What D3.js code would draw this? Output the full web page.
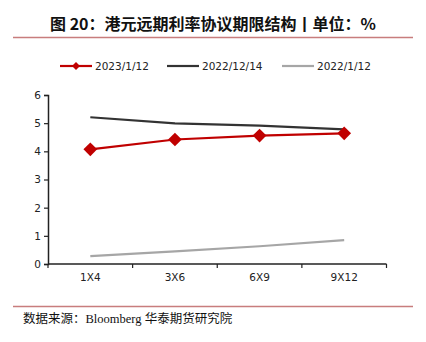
<!DOCTYPE html>
<html><head><meta charset="utf-8">
<script src="https://cdn.jsdelivr.net/npm/d3@7"></script>
<style>body{margin:0;background:#fff;}svg{display:block;}</style>
</head><body>
<svg id="c" width="426" height="342"></svg>
<script>
const categories = ["1X4","3X6","6X9","9X12"];
const s2023_1_12 = [4.07, 4.42, 4.56, 4.64];
const s2022_12_14 = [5.21, 4.99, 4.91, 4.78];
const s2022_1_12 = [0.28, 0.45, 0.63, 0.85];
const seriesNames = ["2023/1/12","2022/12/14","2022/1/12"];
const yTicks = [0,1,2,3,4,5,6];

const svg = d3.select("#c");
const font = "'Noto Sans CJK SC', sans-serif";
const series = [
  {name: seriesNames[0], values: s2023_1_12, color: "#c00000", marker: true},
  {name: seriesNames[1], values: s2022_12_14, color: "#333333", marker: false},
  {name: seriesNames[2], values: s2022_1_12, color: "#a6a6a6", marker: false}
];

// title
svg.append("text").attr("x", 213).attr("y", 30).attr("text-anchor", "middle")
  .attr("font-family", font).attr("font-weight", "bold").attr("font-size", 16).attr("fill", "#111")
  .text("图 20：港元远期利率协议期限结构丨单位：%");
svg.append("line").attr("x1", 13).attr("x2", 413).attr("y1", 37.5).attr("y2", 37.5)
  .attr("stroke", "#c87d7d").attr("stroke-width", 1.5);
svg.append("line").attr("x1", 13).attr("x2", 413).attr("y1", 306.5).attr("y2", 306.5)
  .attr("stroke", "#c87d7d").attr("stroke-width", 1.5);
svg.append("text").attr("x", 23).attr("y", 323)
  .attr("font-family", "'Liberation Serif', 'Noto Sans CJK SC', serif").attr("font-size", 12.5).attr("fill", "#111")
  .text("数据来源：Bloomberg 华泰期货研究院");

const x = d3.scaleBand().domain(categories).range([48, 386.5]);
const y = d3.scaleLinear().domain([0, 6]).range([264, 95]);

const gy = svg.append("g").attr("transform", "translate(48,0)")
  .call(d3.axisLeft(y).tickValues(yTicks).tickSize(4).tickFormat(d3.format("d")));
const gx = svg.append("g").attr("transform", "translate(0,264)")
  .call(d3.axisBottom(x).tickSize(0).tickPadding(10));
[gx, gy].forEach(g => {
  g.select(".domain").attr("stroke", "#222").attr("stroke-width", 1.5);
  g.selectAll(".tick line").attr("stroke", "#222").attr("stroke-width", 1.2);
  g.selectAll("text").attr("font-family", "'DejaVu Sans', sans-serif").attr("font-size", 10.5).attr("fill", "#222");
});
gx.select(".domain").attr("d", "M48,0H386.5");
// x ticks at band boundaries
const bounds = categories.map(c => x(c)).concat([x.range()[1]]);
gx.selectAll(".bt").data(bounds).enter().append("line")
  .attr("x1", d => d).attr("x2", d => d).attr("y1", 0).attr("y2", 4)
  .attr("stroke", "#222").attr("stroke-width", 1.2);

const line = d3.line().x((d, i) => x(categories[i]) + x.bandwidth() / 2).y(d => y(d));
const drawOrder = [series[2], series[1], series[0]];
drawOrder.forEach(s => {
  svg.append("path").datum(s.values).attr("d", line).attr("fill", "none")
    .attr("stroke", s.color).attr("stroke-width", 2.2);
  if (s.marker) {
    svg.selectAll(null).data(s.values).enter().append("path")
      .attr("d", d3.symbol(d3.symbolDiamond2, 120)())
      .attr("transform", (d, i) => `translate(${x(categories[i]) + x.bandwidth() / 2},${y(d)})`)
      .attr("fill", s.color);
  }
});

// legend
const legX = [60, 167, 282];
series.forEach((s, i) => {
  const g = svg.append("g").attr("transform", `translate(${legX[i]},66)`);
  g.append("line").attr("x1", 0).attr("x2", 32).attr("stroke", s.color).attr("stroke-width", 2.2);
  if (s.marker) g.append("path").attr("d", d3.symbol(d3.symbolDiamond2, 40)()).attr("transform", "translate(16,0)").attr("fill", s.color);
  g.append("text").attr("x", 35).attr("y", 4).attr("font-family", "'DejaVu Sans', sans-serif")
    .attr("font-size", 10.5).attr("fill", "#222").text(s.name);
});
</script>
</body></html>
